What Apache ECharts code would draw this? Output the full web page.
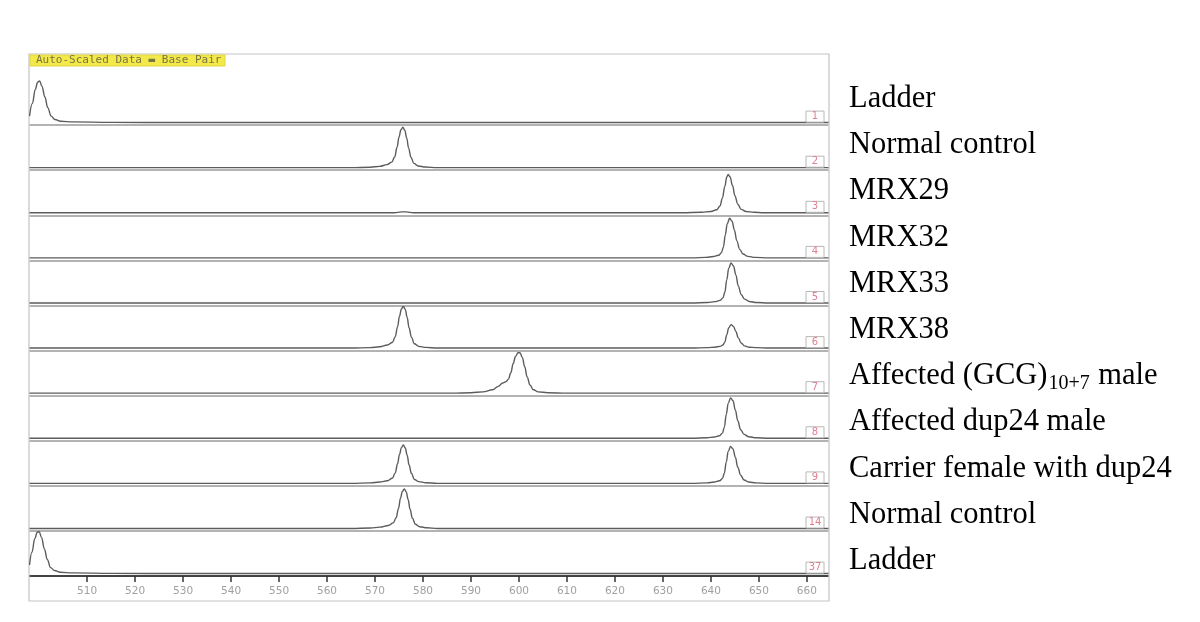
<!DOCTYPE html>
<html>
<head>
<meta charset="utf-8">
<script src="https://cdn.jsdelivr.net/npm/echarts@6/dist/echarts.min.js"></script>
<style>html,body{margin:0;padding:0;background:#fff}#c{width:1200px;height:622px}</style>
</head>
<body>
<div id="c"></div>
<script>
// ---- data (base pair, relative auto-scaled signal 0-100) ----
const xTicks = [510,520,530,540,550,560,570,580,590,600,610,620,630,640,650,660];
const laneNumbers = ['1','2','3','4','5','6','7','8','9','14','37'];
const laneLabels = ['Ladder','Normal control','MRX29','MRX32','MRX33','MRX38',
  'Affected (GCG)|10+7| male','Affected dup24 male','Carrier female with dup24','Normal control','Ladder'];
const headerText = 'Auto-Scaled Data \u25AC Base Pair';

const lane1 = [[498,15],[498.6,45],[499.2,78],[499.7,95],[500.1,98],[500.6,85],[501.2,60],[501.8,35],[502.5,15],[503.3,7],[504.5,3],[507,1.5],[515,0.5],[530,0],[664.5,0]];
const lane2 = [[498,0],[565,0],[569,1],[571,3],[572.5,7],[573.5,13],[574.1,25],[574.6,48],[575.0,72],[575.4,89],[575.8,95],[576.2,88],[576.6,70],[577.0,46],[577.5,24],[578.1,10],[579,4],[580.5,1.5],[583,0],[664.5,0]];
const lane3 = [[498,0],[574,0],[575.5,2],[576.5,2],[578,0],[634,0],[638,1],[640,3],[641.2,7],[641.9,16],[642.4,35],[642.9,62],[643.3,84],[643.6,90],[644.0,84],[644.5,64],[645.0,40],[645.6,20],[646.3,8],[647.3,3],[649,1],[651,0],[664.5,0]];
const lane4 = [[498,0],[636,0],[639,1],[640.5,3],[641.6,6],[642.2,12],[642.6,25],[643.0,54],[643.4,80],[643.9,93],[644.4,86],[644.9,65],[645.4,40],[646.0,20],[646.7,9],[647.7,3.5],[649.2,1],[652,0],[664.5,0]];
const lane5 = [[498,0],[636,0],[639.3,1],[640.8,3],[641.9,6],[642.5,12],[642.9,25],[643.3,54],[643.7,81],[644.2,94],[644.7,87],[645.2,66],[645.7,40],[646.3,20],[647.0,9],[648.0,3.5],[649.5,1],[652,0],[664.5,0]];
const lane6 = [[498,0],[565,0],[569,1],[571,3],[572.6,7],[573.6,13],[574.2,26],[574.7,50],[575.1,75],[575.5,92],[575.9,98],[576.3,91],[576.7,72],[577.1,47],[577.6,25],[578.2,10],[579.1,4],[580.6,1.5],[583,0],[636,0],[639.3,1],[640.8,2],[641.9,4],[642.5,7],[642.9,14],[643.3,31],[643.7,47],[644.2,55],[644.7,51],[645.2,39],[645.7,24],[646.3,12],[647.0,5],[648.0,2],[649.5,1],[652,0],[664.5,0]];
const lane7 = [[498,0],[586,0],[590,1],[592.5,3],[594.5,8],[595.7,16],[596.6,24],[597.3,27],[597.8,33],[598.3,48],[598.8,70],[599.3,87],[599.8,95],[600.2,95],[600.7,84],[601.2,62],[601.7,38],[602.3,19],[603.0,8],[604.0,3],[606,1],[610,0],[664.5,0]];
const lane8 = [[498,0],[636,0],[639.2,1],[640.7,3],[641.8,6],[642.4,12],[642.8,26],[643.2,56],[643.6,82],[644.1,95],[644.6,88],[645.1,66],[645.6,41],[646.2,20],[646.9,9],[647.9,3.5],[649.4,1],[652,0],[664.5,0]];
const lane9 = [[498,0],[565,0],[569,1],[571,3],[572.6,6],[573.6,12],[574.2,24],[574.7,46],[575.1,68],[575.5,84],[575.9,90],[576.3,83],[576.7,66],[577.1,43],[577.6,23],[578.2,9],[579.1,4],[580.6,1.5],[583,0],[636,0],[639.2,1],[640.7,3],[641.8,6],[642.4,11],[642.8,24],[643.2,50],[643.6,75],[644.1,87],[644.6,81],[645.1,61],[645.6,38],[646.2,19],[646.9,8],[647.9,3],[649.4,1],[652,0],[664.5,0]];
const lane10 = [[498,0],[565,0],[569,1],[571,3],[572.8,7],[573.8,13],[574.4,25],[574.9,47],[575.3,71],[575.7,87],[576.1,93],[576.5,86],[576.9,68],[577.3,45],[577.8,24],[578.4,10],[579.3,4],[580.8,1.5],[583,0],[664.5,0]];
const lane11 = [[498,20],[498.5,50],[499.1,82],[499.6,97],[500,99],[500.5,85],[501.1,58],[501.7,33],[502.4,14],[503.2,7],[504.4,3],[507,1.5],[515,0.5],[530,0],[664.5,0]];
const lanes = [lane1,lane2,lane3,lane4,lane5,lane6,lane7,lane8,lane9,lane10,lane11];

// ---- layout ----
const X0 = 30, X1 = 828, TOP0 = 80, LANE_H = 45.1;
const XMIN = 498.1, XMAX = 664.4;
const n = lanes.length;

const grids = [], xAxes = [], yAxes = [], series = [];
for (let i = 0; i < n; i++) {
  const last = i === n - 1;
  grids.push({left: X0, width: X1 - X0, top: TOP0 + LANE_H * i, height: LANE_H});
  xAxes.push({
    type: 'value', gridIndex: i, min: XMIN, max: XMAX,
    splitLine: {show: false},
    axisLine: {show: true, onZero: false, lineStyle: {color: last ? '#444' : '#9a9a9a', width: last ? 2 : 1.6}},
    axisTick: last ? {show: true, customValues: xTicks, length: 6, lineStyle: {color: '#333', width: 1.5}} : {show: false},
    axisLabel: last ? {show: true, customValues: xTicks, color: '#a0a0a0', fontSize: 10.5, margin: 10,
                       fontFamily: 'DejaVu Sans'} : {show: false}
  });
  yAxes.push({type: 'value', gridIndex: i, min: -6, max: 100, show: false});
  series.push({
    type: 'line', xAxisIndex: i, yAxisIndex: i, data: lanes[i],
    showSymbol: false, smooth: 0.4, smoothMonotone: 'x',
    lineStyle: {color: '#5c5c5c', width: 1.4}, silent: true
  });
}

const graphics = [];
// outer frame
graphics.push({type: 'rect', shape: {x: 29, y: 54, width: 800, height: 547},
  style: {fill: 'none', stroke: '#c4c4c4', lineWidth: 1.2}, z: 1});
// header box
graphics.push({type: 'rect', shape: {x: 30, y: 55, width: 195, height: 11},
  style: {fill: '#f3ea4a', stroke: '#e0d640'}, z: 10});
graphics.push({type: 'text', x: 36, y: 60.5, z: 11,
  style: {text: headerText, fill: '#7a7440', font: '11px "DejaVu Sans Mono"', verticalAlign: 'middle'}});
// lane number boxes
for (let i = 0; i < n; i++) {
  const sep = TOP0 + LANE_H * (i + 1);
  graphics.push({type: 'rect', shape: {x: 806, y: sep - 14, width: 18, height: 11},
    style: {fill: '#fff', stroke: '#b8b8b8', lineWidth: 1}, z: 10});
  graphics.push({type: 'text', x: 815, y: sep - 8.5, z: 11,
    style: {text: laneNumbers[i], fill: '#e07f90', font: '10px "DejaVu Sans"', align: 'center', verticalAlign: 'middle'}});
}
// right labels
for (let i = 0; i < n; i++) {
  const parts = laneLabels[i].split('|');
  let text;
  if (parts.length === 3) {
    text = '{a|' + parts[0] + '}{s|' + parts[1] + '}{a|' + parts[2] + '}';
  } else {
    text = '{a|' + parts[0] + '}';
  }
  graphics.push({type: 'text', x: 849, y: 99 + 46.2 * i, z: 11,
    style: {text: text, verticalAlign: 'middle',
      rich: {a: {fontFamily: 'Liberation Serif', fontSize: 30.5, fill: '#000', lineHeight: 36},
             s: {fontFamily: 'Liberation Serif', fontSize: 20, fill: '#000', lineHeight: 36, padding: [15, 1, 0, 1]}}}});
}

const chart = echarts.init(document.getElementById('c'), null, {renderer: 'canvas'});
chart.setOption({
  backgroundColor: '#fff',
  animation: false,
  grid: grids, xAxis: xAxes, yAxis: yAxes, series: series,
  graphic: graphics
});
</script>
</body>
</html>
